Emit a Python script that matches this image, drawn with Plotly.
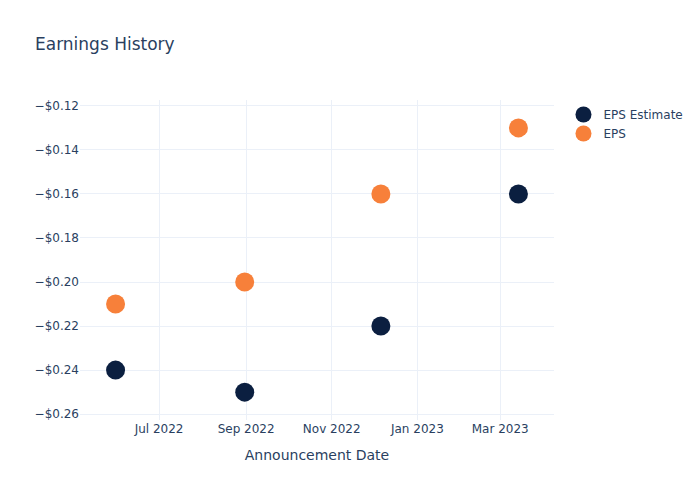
import plotly.graph_objects as go

dates = ["2022-05-31", "2022-08-31", "2022-12-06", "2023-03-14"]
eps_estimate = [-0.24, -0.25, -0.22, -0.16]
eps_actual = [-0.21, -0.20, -0.16, -0.13]

fig = go.Figure()
fig.add_trace(go.Scatter(x=dates, y=eps_estimate, mode="markers", name="EPS Estimate",
                         marker=dict(color="#0B1F40", size=19)))
fig.add_trace(go.Scatter(x=dates, y=eps_actual, mode="markers", name="EPS",
                         marker=dict(color="#F7803A", size=19)))
fig.update_layout(
    template="plotly_white",
    width=700, height=500,
    font=dict(family="DejaVu Sans"),
    title=dict(text="Earnings History"),
    xaxis=dict(title=dict(text="Announcement Date")),
    yaxis=dict(tickformat="$.2f"),
)
fig.write_html("out.html")
